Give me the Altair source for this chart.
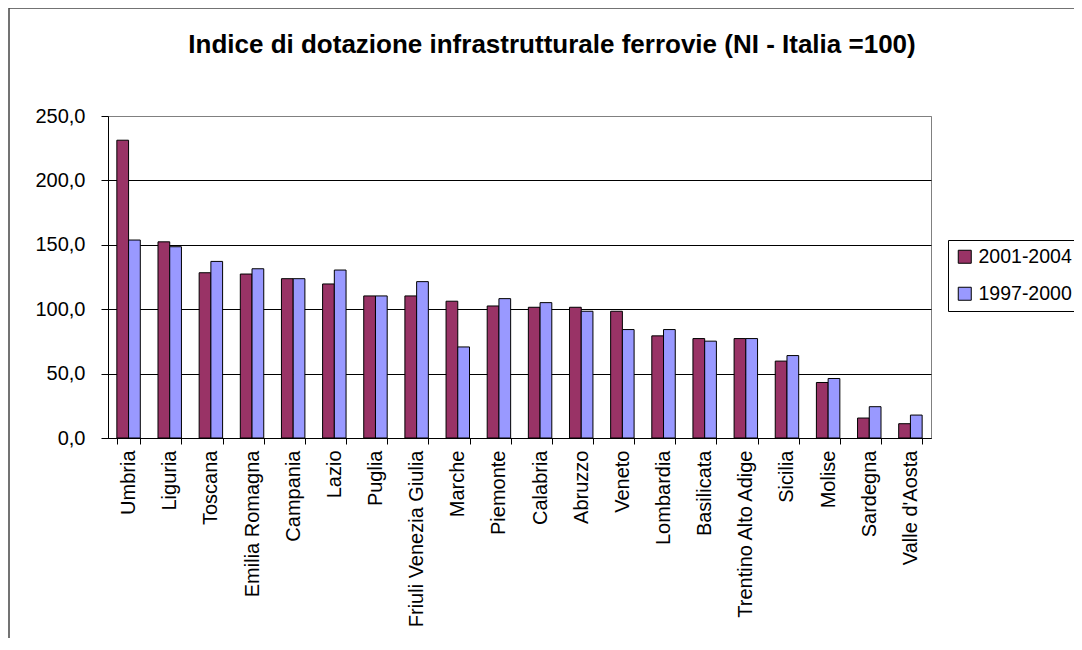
import altair as alt
import pandas as pd

regions = ["Umbria", "Liguria", "Toscana", "Emilia Romagna", "Campania", "Lazio",
           "Puglia", "Friuli Venezia Giulia", "Marche", "Piemonte", "Calabria",
           "Abruzzo", "Veneto", "Lombardia", "Basilicata", "Trentino Alto Adige",
           "Sicilia", "Molise", "Sardegna", "Valle d'Aosta"]
series_names = ["2001-2004", "1997-2000"]
v_2001_2004 = [231.2, 152.3, 128.3, 127.3, 123.7, 119.6, 110.3, 110.3, 106.2, 102.5,
               101.5, 101.5, 98.4, 79.3, 77.2, 77.2, 59.7, 43.1, 15.5, 11.1]
v_1997_2000 = [153.7, 148.5, 137.1, 131.4, 123.7, 130.4, 110.3, 121.4, 70.7, 108.2,
               105.1, 98.4, 84.2, 84.2, 75.2, 77.2, 64.0, 46.2, 24.3, 17.8]
y_ticks = [0, 50, 100, 150, 200, 250]
colors = ["#993366", "#9999FF"]
title_text = "Indice di dotazione infrastrutturale ferrovie (NI - Italia =100)"

rows = []
for i, r in enumerate(regions):
    rows.append({"Regione": r, "Periodo": series_names[0], "Valore": v_2001_2004[i]})
    rows.append({"Regione": r, "Periodo": series_names[1], "Valore": v_1997_2000[i]})
df = pd.DataFrame(rows)

FONT = "Liberation Sans"

bars = alt.Chart(df).mark_bar(stroke="black", strokeWidth=1).encode(
    x=alt.X("Regione:N", sort=regions,
            scale=alt.Scale(paddingInner=0.43, paddingOuter=0.215),
            axis=alt.Axis(title=None, labelAngle=-90, labelAlign="right",
                          labelBaseline="middle", labelFontSize=20, labelFont=FONT,
                          labelColor="black", labelPadding=6, labelLimit=0,
                          tickBand="extent", tickSize=6, tickColor="black",
                          domainColor="black", grid=False)),
    xOffset=alt.XOffset("Periodo:N", sort=series_names,
                        scale=alt.Scale(paddingInner=0, paddingOuter=0)),
    y=alt.Y("Valore:Q", scale=alt.Scale(domain=[0, 250], nice=False),
            axis=alt.Axis(title=None, values=y_ticks,
                          labelExpr="replace(format(datum.value, '.1f'), '.', ',')",
                          labelFontSize=20, labelFont=FONT, labelColor="black",
                          labelPadding=16, tickSize=7, tickColor="black",
                          domainColor="black",
                          gridColor={"condition": {"test": "datum.value === 250", "value": "#808080"},
                                     "value": "black"},
                          gridWidth=1)),
    color=alt.Color("Periodo:N", sort=series_names,
                    scale=alt.Scale(domain=series_names, range=colors),
                    legend=alt.Legend(title=None, orient="none", legendX=840, legendY=124,
                                      strokeColor="black", fillColor="white", padding=7,
                                      symbolType="square", symbolSize=169,
                                      symbolStrokeColor="black", symbolStrokeWidth=1,
                                      labelFontSize=19.5, labelFont=FONT, labelColor="black",
                                      rowPadding=16, labelOffset=4)),
)

one = pd.DataFrame({"k": [0]})
border_left = alt.Chart(one).mark_rule(color="#444444", strokeWidth=1.5).encode(
    x=alt.value(-99), y=alt.value(-108), y2=alt.value(540))
border_top = alt.Chart(one).mark_rule(color="#444444", strokeWidth=1.5).encode(
    x=alt.value(-99), x2=alt.value(1000), y=alt.value(-108))
title = alt.Chart(pd.DataFrame({"t": [title_text]})).mark_text(
    font=FONT, fontSize=26, fontWeight="bold", color="black",
    align="center", baseline="middle").encode(
    text="t:N", x=alt.value(444), y=alt.value(-71))

chart = alt.layer(bars, border_left, border_top, title).properties(
    width=823, height=322,
    padding={"left": 100, "top": 108, "right": 143, "bottom": 200},
    autosize=alt.AutoSizeParams(type="none"),
).configure_view(stroke="#808080", strokeWidth=1)

chart.save("out.html", embed_options={"renderer": "svg", "actions": False})
